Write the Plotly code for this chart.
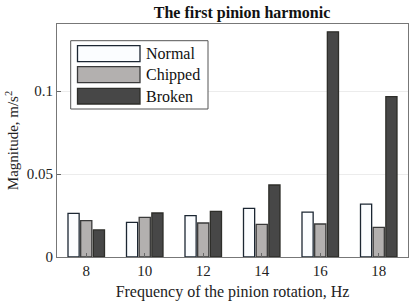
import plotly.graph_objects as go

categories = ["8", "10", "12", "14", "16", "18"]
freqs = [8, 10, 12, 14, 16, 18]
normal = [0.0263, 0.0209, 0.0249, 0.0293, 0.0271, 0.0319]
chipped = [0.0219, 0.0239, 0.0205, 0.0197, 0.0199, 0.0179]
broken = [0.0163, 0.0265, 0.0275, 0.0434, 0.1357, 0.0966]
series_names = ["Normal", "Chipped", "Broken"]
fills = ["#fbfdff", "#b3b0af", "#474747"]
edges = ["#1c2733", "#3a3a3a", "#2e2e2a"]
yticks = [0, 0.05, 0.1]
ytick_text = ["0", "0.05", "0.1"]

FONT = "Liberation Serif"
fig = go.Figure()
for name, vals, fc, ec in zip(series_names, [normal, chipped, broken], fills, edges):
    fig.add_trace(go.Bar(x=freqs, y=vals, name=name, marker=dict(color=fc, line=dict(color=ec, width=1.3)),
                         showlegend=False))

fig.update_layout(
    width=409, height=304,
    margin=dict(l=57, r=1, t=24, b=47),
    paper_bgcolor="white", plot_bgcolor="white",
    barmode="group", bargap=0.35, bargroupgap=0.12,
    font=dict(family=FONT, size=15, color="#222"),
    title=dict(text="<b>The first pinion harmonic</b>", x=242/409, xanchor="center",
               y=1-12/304, yanchor="middle", font=dict(family=FONT, size=16, color="#111")),
    xaxis=dict(range=[7, 19], tickvals=freqs, ticktext=categories, ticks="inside", ticklen=4,
               tickcolor="#666", showline=True, linecolor="#777", mirror=True, showgrid=False,
               title=dict(text="Frequency of the pinion rotation, Hz", standoff=7,
                          font=dict(family=FONT, size=16)), tickfont=dict(size=15)),
    yaxis=dict(range=[0, 0.1404], tickvals=yticks, ticktext=ytick_text, ticks="inside", ticklen=4,
               tickcolor="#666", showline=True, linecolor="#777", mirror=True, showgrid=True,
               gridcolor="#ececec", zeroline=False,
               title=dict(text="Magnitude, m/s<sup>2</sup>", standoff=4, font=dict(family=FONT, size=15)),
               tickfont=dict(size=15)),
)

# Custom legend (decoration) in paper coordinates
W, H = 351.0, 233.0
def px(x):
    return (x - 57) / W
def py(y):
    return (257 - y) / H

fig.add_shape(type="rect", xref="paper", yref="paper", x0=px(70.7), x1=px(208), y0=py(109), y1=py(40.7),
              line=dict(color="#555", width=1), fillcolor="white")
sw_y = [(45.7, 61.7), (66.7, 82.7), (88.3, 104)]
for (t, b), name, fc, ec in zip(sw_y, series_names, fills, edges):
    fig.add_shape(type="rect", xref="paper", yref="paper", x0=px(77.5), x1=px(140), y0=py(b), y1=py(t),
                  line=dict(color=ec, width=1.3), fillcolor=fc)
    fig.add_annotation(xref="paper", yref="paper", x=px(144), y=py((t + b) / 2), text=name, showarrow=False,
                       xanchor="left", yanchor="middle", font=dict(family=FONT, size=16, color="#111"))

fig.write_html("out.html", config={"displayModeBar": False},
               post_script="document.body.style.margin='0';document.body.style.padding='0';")
